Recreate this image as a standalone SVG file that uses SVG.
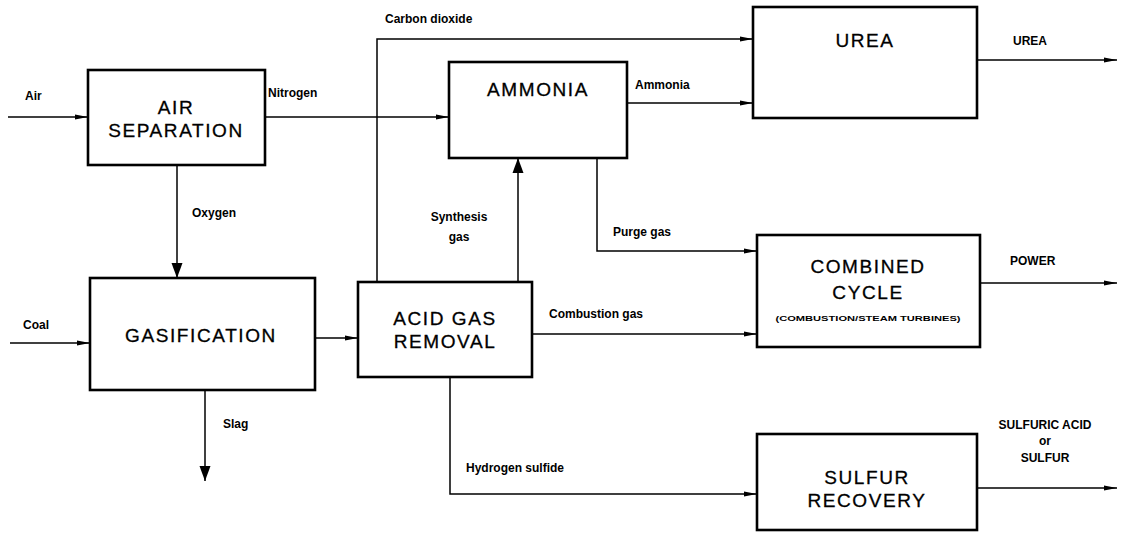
<svg xmlns="http://www.w3.org/2000/svg" width="1125" height="540" viewBox="0 0 1125 540">
<style>
.box{fill:#fff;stroke:#000;stroke-width:2.6}
.bt{font-family:"Liberation Sans",Arial,sans-serif;font-size:19px;letter-spacing:1.6px;text-anchor:middle;fill:#000;stroke:#000;stroke-width:0.3}
.lb{font-family:"Liberation Sans",Arial,sans-serif;font-size:12px;font-weight:bold;fill:#000}
.cn{fill:none;stroke:#000;stroke-width:1.5}
</style>
<defs>
<marker id="a" markerUnits="userSpaceOnUse" markerWidth="14" markerHeight="8" refX="13" refY="4" orient="auto">
<path d="M0,1.5 L13,4 L0,6.5 z" fill="#000"/>
</marker>
<marker id="b" markerUnits="userSpaceOnUse" markerWidth="16" markerHeight="12" refX="15" refY="6" orient="auto">
<path d="M0,0.5 L15,6 L0,11.5 z" fill="#000"/>
</marker>
</defs>
<rect width="1125" height="540" fill="#fff"/>
<g id="connectors">
<path class="cn" d="M8,117 H88" marker-end="url(#a)"/>
<path class="cn" d="M265,117 H449" marker-end="url(#a)"/>
<path class="cn" d="M377,282 V39 H753" marker-end="url(#a)"/>
<path class="cn" d="M627,103 H753" marker-end="url(#a)"/>
<path class="cn" d="M977,60 H1117" marker-end="url(#a)"/>
<path class="cn" d="M177,166 V278" marker-end="url(#b)"/>
<path class="cn" d="M10,343 H90" marker-end="url(#a)"/>
<path class="cn" d="M315,338 H358" marker-end="url(#a)"/>
<path class="cn" d="M205,390 V481" marker-end="url(#b)"/>
<path class="cn" d="M518,282 V158" marker-end="url(#b)"/>
<path class="cn" d="M597,158 V251 H757" marker-end="url(#a)"/>
<path class="cn" d="M532,334 H757" marker-end="url(#a)"/>
<path class="cn" d="M980,283 H1117" marker-end="url(#a)"/>
<path class="cn" d="M450,377 V494 H757" marker-end="url(#a)"/>
<path class="cn" d="M977,488 H1117" marker-end="url(#a)"/>
<text class="lb" x="25" y="100">Air</text>
<text class="lb" x="268" y="97">Nitrogen</text>
<text class="lb" x="385" y="23">Carbon dioxide</text>
<text class="lb" x="635" y="89">Ammonia</text>
<text class="lb" x="1013" y="45">UREA</text>
<text class="lb" x="192" y="217">Oxygen</text>
<text class="lb" x="23" y="329">Coal</text>
<text class="lb" x="223" y="428">Slag</text>
<text class="lb" x="459" y="221" text-anchor="middle">Synthesis</text>
<text class="lb" x="459" y="241" text-anchor="middle">gas</text>
<text class="lb" x="613" y="236">Purge gas</text>
<text class="lb" x="549" y="318">Combustion gas</text>
<text class="lb" x="1010" y="265">POWER</text>
<text class="lb" x="466" y="472">Hydrogen sulfide</text>
<text class="lb" x="1045" y="429" text-anchor="middle">SULFURIC ACID</text>
<text class="lb" x="1045" y="445" text-anchor="middle">or</text>
<text class="lb" x="1045" y="462" text-anchor="middle">SULFUR</text>
</g>
<g id="air-separation">
<rect class="box" x="88" y="70" width="177" height="95"/>
<text class="bt" x="176" y="114">AIR</text>
<text class="bt" x="176" y="137">SEPARATION</text>
</g>
<g id="ammonia">
<rect class="box" x="449" y="62" width="178" height="96"/>
<text class="bt" x="538" y="96">AMMONIA</text>
</g>
<g id="urea">
<rect class="box" x="753" y="7" width="224" height="111"/>
<text class="bt" x="865" y="47">UREA</text>
</g>
<g id="gasification">
<rect class="box" x="90" y="278" width="225" height="112"/>
<text class="bt" x="201" y="342">GASIFICATION</text>
</g>
<g id="acid-gas-removal">
<rect class="box" x="358" y="282" width="174" height="95"/>
<text class="bt" x="445" y="325">ACID GAS</text>
<text class="bt" x="445" y="348">REMOVAL</text>
</g>
<g id="combined-cycle">
<rect class="box" x="757" y="235" width="223" height="112"/>
<text class="bt" x="868" y="273">COMBINED</text>
<text class="bt" x="868" y="299">CYCLE</text>
<text x="868" y="321" text-anchor="middle" font-family="Liberation Sans, Arial, sans-serif" font-size="7.5" font-weight="bold" textLength="185" lengthAdjust="spacingAndGlyphs">(COMBUSTION/STEAM TURBINES)</text>
</g>
<g id="sulfur-recovery">
<rect class="box" x="757" y="434" width="220" height="96"/>
<text class="bt" x="867" y="484">SULFUR</text>
<text class="bt" x="867" y="507">RECOVERY</text>
</g>
</svg>
